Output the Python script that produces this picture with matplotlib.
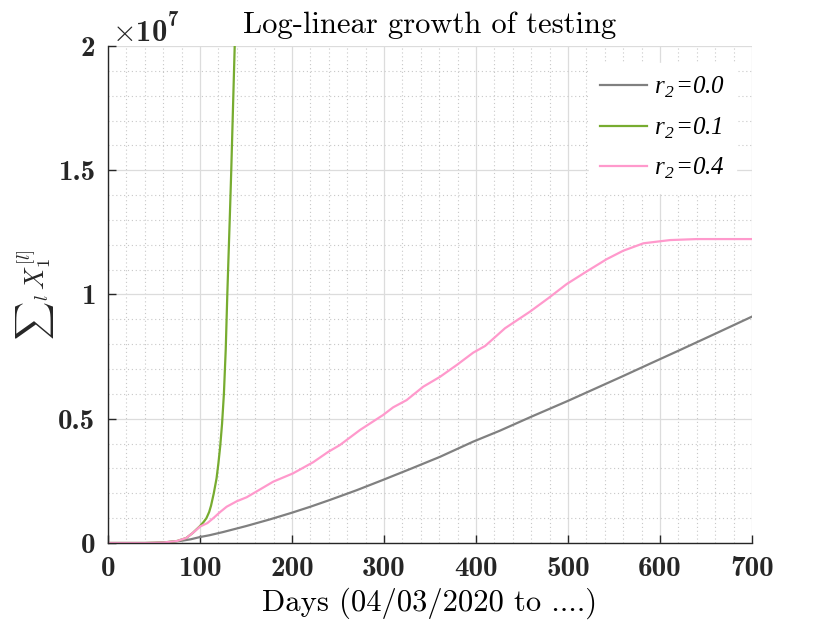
"""Cumulative tested counts under log-linear growth of testing."""

import matplotlib

matplotlib.use("Agg")

import matplotlib.pyplot as plt
from matplotlib.ticker import MultipleLocator

plt.rcParams["mathtext.fontset"] = "cm"
plt.rcParams["axes.unicode_minus"] = False

# values, y in units of 1e7
days_r0 = [0, 40, 50, 60, 70, 80, 90, 100, 110, 125, 150, 176, 200, 220, 241, 270, 299, 330, 361,
           397, 426, 460, 500, 530, 560, 590, 622, 660, 700]
vals_r0 = [0, 0, 0.0005, 0.002, 0.005, 0.009, 0.015, 0.024, 0.031, 0.044, 0.068, 0.095, 0.122,
           0.146, 0.173, 0.212, 0.254, 0.3, 0.347, 0.408, 0.452, 0.508, 0.572, 0.622, 0.672,
           0.723, 0.777, 0.842, 0.911]

days_r1 = [0, 40, 60, 75, 85, 92, 100, 104, 107, 110, 112, 115, 118, 120, 122, 124, 126, 128,
           129.7, 131, 132.5, 134, 135.5, 137, 138.5, 140]
vals_r1 = [0, 0, 0.002, 0.008, 0.02, 0.04, 0.068, 0.085, 0.1, 0.125, 0.15, 0.2, 0.26, 0.32,
           0.39, 0.48, 0.6, 0.78, 1.0, 1.15, 1.32, 1.5, 1.7, 1.9, 2.1, 2.3]

days_r4 = [0, 40, 60, 75, 85, 92, 100, 108, 114.5, 122, 129, 140, 150.7, 165, 179.7, 201, 223,
           239.5, 252, 274, 299, 310, 324.6, 342.7, 361, 379, 397, 410, 431.5, 458.7, 478.6,
           498.6, 520, 542, 560, 582, 611, 640, 700]
vals_r4 = [0, 0, 0.002, 0.008, 0.02, 0.04, 0.066, 0.08, 0.1, 0.125, 0.146, 0.168, 0.184, 0.215,
           0.247, 0.28, 0.325, 0.367, 0.394, 0.455, 0.515, 0.546, 0.575, 0.629, 0.669, 0.716,
           0.766, 0.793, 0.864, 0.931, 0.985, 1.042, 1.092, 1.142, 1.176, 1.206, 1.219, 1.223,
           1.223]

labels = [r"$\mathdefault{r}_{\mathdefault{2}}$=0.0",
          r"$\mathdefault{r}_{\mathdefault{2}}$=0.1",
          r"$\mathdefault{r}_{\mathdefault{2}}$=0.4"]
colors = ["#808080", "#77ac30", "#ff99cc"]

x_ticks = [0, 100, 200, 300, 400, 500, 600, 700]
y_ticks = [0, 0.5, 1, 1.5, 2]
y_tick_labels = ["0", "0.5", "1", "1.5", "2"]

fig = plt.figure(figsize=(8.3, 6.23), dpi=100)
ax = fig.add_axes([0.1301, 0.1284, 0.7759, 0.7978])

ax.plot(days_r0, vals_r0, color=colors[0], lw=1.6, label=labels[0])
ax.plot(days_r1, vals_r1, color=colors[1], lw=1.6, label=labels[1])
ax.plot(days_r4, vals_r4, color=colors[2], lw=1.6, label=labels[2])

ax.set_xlim(0, 700)
ax.set_ylim(0, 2)
ax.set_xticks(x_ticks)
ax.set_yticks(y_ticks)
ax.set_yticklabels(y_tick_labels)
ax.xaxis.set_minor_locator(MultipleLocator(20))
ax.yaxis.set_minor_locator(MultipleLocator(0.1))

ax.grid(which="major", color="#dcdcdc", lw=0.9, ls="-")
ax.grid(which="minor", color="#c8c8c8", lw=0.8, ls=(0, (1, 2.5)))
ax.set_axisbelow(True)

for side in ["top", "right"]:
    ax.spines[side].set_visible(False)
for side in ["left", "bottom"]:
    ax.spines[side].set_color("#262626")
    ax.spines[side].set_linewidth(1.0)

ax.tick_params(which="major", direction="in", length=6, width=1.0, color="#262626", pad=9)
ax.tick_params(which="minor", length=0)
for lab in ax.get_xticklabels() + ax.get_yticklabels():
    lab.set_fontfamily("cmb10")
    lab.set_fontsize(21)
    lab.set_color("#262626")

# exponent marker above the y axis
mult = ax.text(0.006, 0.998, r"$\mathbf{\times}$10", transform=ax.transAxes, fontsize=22,
               fontfamily="cmb10", color="#262626", ha="left", va="bottom")
ax.annotate("7", xy=(1, 1), xycoords=mult, xytext=(1, -7), textcoords="offset points",
            fontsize=15, fontfamily="cmb10", color="#262626", ha="left", va="bottom")

ax.set_title("Log-linear growth of testing", fontfamily="cmr10", fontsize=22, pad=9)
ax.set_xlabel("Days (04/03/2020 to ....)", fontfamily="cmr10", fontsize=22, labelpad=4)
fig.text(36 / 830, 1 - 295 / 623, r"${\sum}_l\, X_1^{[l]}$", fontsize=19, rotation=90,
         ha="center", va="center", color="#262626")

leg = ax.legend(loc="upper right", bbox_to_anchor=(0.995, 0.99), frameon=True, fancybox=False,
                edgecolor="white", framealpha=1.0, handlelength=1.85, handletextpad=0.3,
                labelspacing=0.62, borderpad=0.45,
                prop={"family": "Liberation Serif", "style": "italic", "size": 18})

fig.savefig("out.png", dpi=100)
